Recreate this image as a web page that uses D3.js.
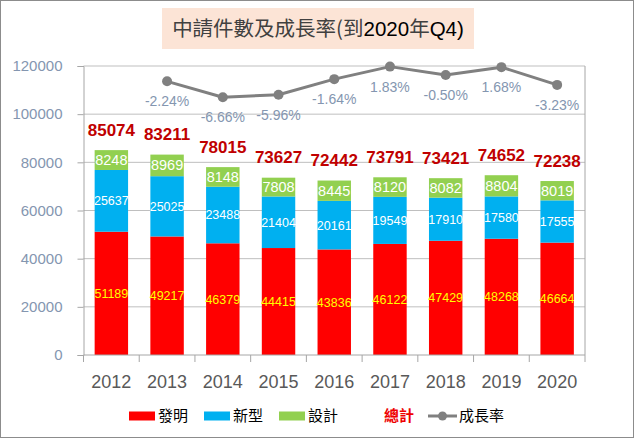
<!DOCTYPE html>
<html lang="zh-Hant">
<head>
<meta charset="UTF-8">
<title>中請件數及成長率</title>
<script src="https://d3js.org/d3.v7.min.js"></script>
<style>
    body { margin: 0; background: #fff; }
    svg { display: block; font-family: "Liberation Sans", Arial, sans-serif; }
    .cjk { font-family: "Noto Sans CJK TC", "Liberation Sans", sans-serif; }
</style>
</head>
<body>
<div id="chart"></div>
<script>
    // data
    const years = ["2012", "2013", "2014", "2015", "2016", "2017", "2018", "2019", "2020"];
    const invention = [51189, 49217, 46379, 44415, 43836, 46122, 47429, 48268, 46664];
    const utility = [25637, 25025, 23488, 21404, 20161, 19549, 17910, 17580, 17555];
    const design = [8248, 8969, 8148, 7808, 8445, 8120, 8082, 8804, 8019];
    const totals = [85074, 83211, 78015, 73627, 72442, 73791, 73421, 74652, 72238];
    const growth = [null, -2.24, -6.66, -5.96, -1.64, 1.83, -0.50, 1.68, -3.23];
    const yTicks = [0, 20000, 40000, 60000, 80000, 100000, 120000];

    const W = 634, H = 438;
    const plot = { left: 83.5, right: 585, top: 66, bottom: 355 };

    const svg = d3.select("#chart").append("svg")
        .attr("width", W)
        .attr("height", H);

    svg.append("rect")
        .attr("x", 0.5).attr("y", 0.5)
        .attr("width", W - 1).attr("height", H - 1)
        .attr("fill", "#fff")
        .attr("stroke", "#8c8c8c");

    // title
    svg.append("rect")
        .attr("x", 162).attr("y", 8)
        .attr("width", 312).attr("height", 41)
        .attr("fill", "#fce4d6");
    const title = svg.append("text")
        .attr("x", 318).attr("y", 36)
        .attr("text-anchor", "middle")
        .attr("font-size", 20.5)
        .attr("fill", "#404040");
    title.append("tspan").attr("class", "cjk").text("中請件數及成長率(到");
    title.append("tspan").attr("fill", "#000").text("2020");
    title.append("tspan").attr("class", "cjk").text("年");
    title.append("tspan").attr("fill", "#000").text("Q4)");

    const x = d3.scaleBand()
        .domain(years)
        .range([plot.left, plot.right])
        .paddingInner(0.4)
        .paddingOuter(0.2);

    const y = d3.scaleLinear()
        .domain([0, 120000])
        .range([plot.bottom, plot.top]);

    // hidden secondary axis for the growth line
    const y2 = d3.scaleLinear()
        .domain([-78, 2])
        .range([plot.bottom, plot.top]);

    // gridlines
    svg.append("g")
        .selectAll("line")
        .data(yTicks.filter(d => d > 0))
        .enter().append("line")
        .attr("x1", plot.left).attr("x2", plot.right)
        .attr("y1", d => y(d)).attr("y2", d => y(d))
        .attr("stroke", "#bfbfbf");

    // y axis
    const yAxis = svg.append("g")
        .attr("transform", `translate(${plot.left},0)`)
        .call(d3.axisLeft(y).tickValues(yTicks).tickSize(6).tickPadding(15).tickFormat(d3.format("d")));
    yAxis.select(".domain").attr("stroke", "#a6a6a6");
    yAxis.selectAll(".tick line").attr("stroke", "#a6a6a6");
    yAxis.selectAll("text")
        .attr("font-size", 15)
        .attr("fill", "#8496b0")
        .attr("font-family", "Liberation Sans, Arial, sans-serif");

    // right border of plot area
    svg.append("line")
        .attr("x1", plot.right).attr("x2", plot.right)
        .attr("y1", plot.top).attr("y2", plot.bottom)
        .attr("stroke", "#a6a6a6");

    // stacked bars
    const stack = years.map((yr, i) => ({
        year: yr,
        parts: [
            { key: "inv", v0: 0, v1: invention[i], color: "#ff0000", label: "#ffff00", size: 12.5 },
            { key: "uti", v0: invention[i], v1: invention[i] + utility[i], color: "#00b0f0", label: "#ffffff", size: 12.5 },
            { key: "des", v0: invention[i] + utility[i], v1: totals[i], color: "#92d050", label: "#ffffff", size: 14.5 }
        ]
    }));

    const barGroup = svg.append("g")
        .selectAll("g")
        .data(stack)
        .enter().append("g");

    barGroup.selectAll("rect")
        .data(d => d.parts.map(p => Object.assign({ year: d.year }, p)))
        .enter().append("rect")
        .attr("x", d => x(d.year))
        .attr("width", x.bandwidth())
        .attr("y", d => y(d.v1))
        .attr("height", d => y(d.v0) - y(d.v1))
        .attr("fill", d => d.color);

    barGroup.selectAll("text")
        .data(d => d.parts.map(p => Object.assign({ year: d.year }, p)))
        .enter().append("text")
        .attr("x", d => x(d.year) + x.bandwidth() / 2)
        .attr("y", d => (y(d.v0) + y(d.v1)) / 2)
        .attr("dy", "0.35em")
        .attr("text-anchor", "middle")
        .attr("font-size", d => d.size)
        .attr("fill", d => d.label)
        .text(d => d.v1 - d.v0);

    // x axis
    const xAxisY = plot.bottom;
    svg.append("line")
        .attr("x1", plot.left).attr("x2", plot.right)
        .attr("y1", xAxisY).attr("y2", xAxisY)
        .attr("stroke", "#a6a6a6");
    const step = x.step();
    svg.append("g")
        .selectAll("line")
        .data(d3.range(years.length + 1))
        .enter().append("line")
        .attr("x1", i => plot.left + i * step)
        .attr("x2", i => plot.left + i * step)
        .attr("y1", xAxisY).attr("y2", xAxisY + 7)
        .attr("stroke", "#a6a6a6");
    svg.append("g")
        .selectAll("text")
        .data(years)
        .enter().append("text")
        .attr("x", d => x(d) + x.bandwidth() / 2)
        .attr("y", 388)
        .attr("text-anchor", "middle")
        .attr("font-size", 18)
        .attr("fill", "#595959")
        .text(d => d);

    // totals
    svg.append("g")
        .selectAll("text")
        .data(years)
        .enter().append("text")
        .attr("x", d => x(d) + x.bandwidth() / 2)
        .attr("y", (d, i) => y(totals[i]) - 14.5)
        .attr("text-anchor", "middle")
        .attr("font-size", 17)
        .attr("font-weight", "bold")
        .attr("fill", "#c00000")
        .text((d, i) => totals[i]);

    // growth line
    const pts = years.map((yr, i) => ({ year: yr, g: growth[i] })).filter(d => d.g !== null);
    const line = d3.line()
        .x(d => x(d.year) + x.bandwidth() / 2)
        .y(d => y2(d.g));

    svg.append("path")
        .datum(pts)
        .attr("d", line)
        .attr("fill", "none")
        .attr("stroke", "#808080")
        .attr("stroke-width", 3)
        .attr("stroke-linejoin", "round");

    svg.append("g")
        .selectAll("circle")
        .data(pts)
        .enter().append("circle")
        .attr("cx", d => x(d.year) + x.bandwidth() / 2)
        .attr("cy", d => y2(d.g))
        .attr("r", 5)
        .attr("fill", "#808080");

    svg.append("g")
        .selectAll("text")
        .data(pts)
        .enter().append("text")
        .attr("x", d => x(d.year) + x.bandwidth() / 2)
        .attr("y", d => y2(d.g) + 25)
        .attr("text-anchor", "middle")
        .attr("font-size", 14)
        .attr("fill", "#8496b0")
        .text(d => d.g.toFixed(2) + "%");

    // legend
    const legendY = 416;
    const legendItems = [
        { label: "發明", color: "#ff0000", x: 129 },
        { label: "新型", color: "#00b0f0", x: 204 },
        { label: "設計", color: "#92d050", x: 279 }
    ];
    const lg = svg.append("g");
    lg.selectAll("rect")
        .data(legendItems)
        .enter().append("rect")
        .attr("x", d => d.x)
        .attr("y", legendY - 4.5)
        .attr("width", 26)
        .attr("height", 9)
        .attr("fill", d => d.color);
    lg.selectAll("text")
        .data(legendItems)
        .enter().append("text")
        .attr("class", "cjk")
        .attr("x", d => d.x + 29)
        .attr("y", legendY)
        .attr("dy", "0.36em")
        .attr("font-size", 15)
        .attr("fill", "#000")
        .text(d => d.label);

    lg.append("text")
        .attr("class", "cjk")
        .attr("x", 384)
        .attr("y", legendY)
        .attr("dy", "0.36em")
        .attr("font-size", 15)
        .attr("font-weight", "bold")
        .attr("fill", "#ee0000")
        .text("總計");

    lg.append("line")
        .attr("x1", 428).attr("x2", 457)
        .attr("y1", legendY).attr("y2", legendY)
        .attr("stroke", "#808080")
        .attr("stroke-width", 3);
    lg.append("circle")
        .attr("cx", 442.5).attr("cy", legendY)
        .attr("r", 4.5)
        .attr("fill", "#808080");
    lg.append("text")
        .attr("class", "cjk")
        .attr("x", 459)
        .attr("y", legendY)
        .attr("dy", "0.36em")
        .attr("font-size", 15)
        .attr("fill", "#000")
        .text("成長率");
</script>
</body>
</html>
